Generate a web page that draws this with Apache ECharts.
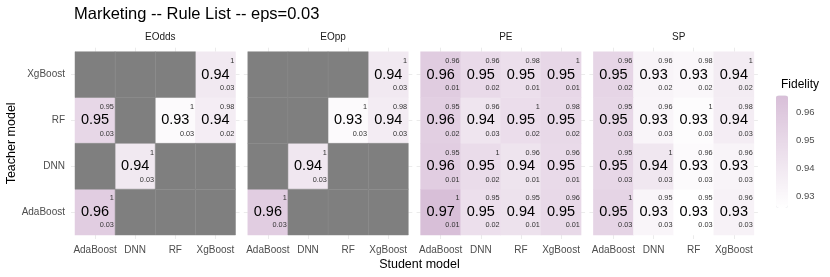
<!DOCTYPE html>
<html>
<head>
<meta charset="utf-8">
<script src="https://cdn.jsdelivr.net/npm/echarts@6/dist/echarts.min.js"></script>
<style>html,body{margin:0;padding:0;background:#fff}#c{width:830px;height:277px}</style>
</head>
<body>
<div id="c"></div>
<script>
// ---------------- data ----------------
const students = ['AdaBoost', 'DNN', 'RF', 'XgBoost'];
const teachers = ['AdaBoost', 'DNN', 'RF', 'XgBoost']; // bottom to top
const facets = ['EOdds', 'EOpp', 'PE', 'SP'];
const legendTicks = [0.93, 0.94, 0.95, 0.96];

// rows = teacher (AdaBoost, DNN, RF, XgBoost), cols = student
const fidelityEOdds = [
  [0.957, null, null, null],
  [null, 0.940, null, null],
  [0.951, null, 0.929, 0.937],
  [null, null, null, 0.940]
];
const topEOdds = [
  [1, null, null, null],
  [null, 1, null, null],
  [0.95, null, 1, 0.98],
  [null, null, null, 1]
];
const bottomEOdds = [
  [0.03, null, null, null],
  [null, 0.03, null, null],
  [0.03, null, 0.03, 0.02],
  [null, null, null, 0.03]
];

const fidelityEOpp = [
  [0.957, null, null, null],
  [null, 0.941, null, null],
  [null, null, 0.929, 0.938],
  [null, null, null, 0.940]
];
const topEOpp = [
  [1, null, null, null],
  [null, 1, null, null],
  [null, null, 1, 0.98],
  [null, null, null, 1]
];
const bottomEOpp = [
  [0.03, null, null, null],
  [null, 0.03, null, null],
  [null, null, 0.03, 0.03],
  [null, null, null, 0.03]
];

const fidelityPE = [
  [0.966, 0.946, 0.944, 0.950],
  [0.957, 0.948, 0.943, 0.949],
  [0.956, 0.942, 0.947, 0.950],
  [0.958, 0.949, 0.946, 0.951]
];
const topPE = [
  [1, 0.95, 0.95, 0.96],
  [0.95, 1, 0.96, 0.96],
  [0.95, 0.96, 1, 0.98],
  [0.96, 0.96, 0.98, 1]
];
const bottomPE = [
  [0.01, 0.02, 0.01, 0.01],
  [0.01, 0.02, 0.01, 0.01],
  [0.02, 0.03, 0.02, 0.02],
  [0.01, 0.02, 0.01, 0.01]
];

const fidelitySP = [
  [0.953, 0.932, 0.926, 0.934],
  [0.951, 0.941, 0.929, 0.933],
  [0.951, 0.932, 0.928, 0.937],
  [0.952, 0.933, 0.931, 0.938]
];
const topSP = [
  [1, 0.95, 0.95, 0.96],
  [0.95, 1, 0.96, 0.96],
  [0.95, 0.96, 1, 0.98],
  [0.96, 0.96, 0.98, 1]
];
const bottomSP = [
  [0.03, 0.03, 0.03, 0.03],
  [0.03, 0.03, 0.03, 0.03],
  [0.03, 0.03, 0.03, 0.03],
  [0.02, 0.02, 0.02, 0.02]
];

const facetData = [
  { fid: fidelityEOdds, top: topEOdds, bot: bottomEOdds },
  { fid: fidelityEOpp, top: topEOpp, bot: bottomEOpp },
  { fid: fidelityPE, top: topPE, bot: bottomPE },
  { fid: fidelitySP, top: topSP, bot: bottomSP }
];

// ---------------- layout / style ----------------
const FONT = 'Liberation Sans, Arial, Helvetica, sans-serif';
const GRID_LEFT0 = 75, GRID_STEP = 172.8, GRID_W = 160.5, GRID_TOP = 51.7, GRID_H = 183.3;
const GRID_COLOR = '#ebebeb';

let allVals = [];
facetData.forEach(f => f.fid.forEach(r => r.forEach(v => { if (v != null) allVals.push(v); })));
const vMin = Math.min(...allVals), vMax = Math.max(...allVals);

const grids = [], xAxes = [], yAxes = [], series = [], titles = [];
const heatIdx = [];

titles.push({
  text: 'Marketing -- Rule List -- eps=0.03',
  left: 69, top: 1,
  textStyle: { fontFamily: FONT, fontSize: 16.5, fontWeight: 'normal', color: '#000' }
});

facets.forEach((name, i) => {
  const left = GRID_LEFT0 + i * GRID_STEP;
  grids.push({ left: left, top: GRID_TOP, width: GRID_W, height: GRID_H, containLabel: false });
  // strip label
  titles.push({
    text: name, left: left + GRID_W / 2, top: 27, textAlign: 'center',
    textStyle: { fontFamily: FONT, fontSize: 10, fontWeight: 'normal', color: '#1a1a1a' }
  });
  const xb = xAxes.length;
  xAxes.push({
    type: 'category', data: students, gridIndex: i, position: 'bottom',
    axisLine: { show: false },
    axisTick: { show: true, alignWithLabel: true, interval: 0, length: 4, lineStyle: { color: GRID_COLOR, width: 1 } },
    axisLabel: { fontFamily: FONT, fontSize: 10, color: '#4d4d4d', margin: 10, interval: 0 },
    splitLine: { show: false }
  });
  xAxes.push({
    type: 'category', data: students, gridIndex: i, position: 'top',
    axisLine: { show: false },
    axisTick: { show: true, alignWithLabel: true, interval: 0, length: 4, lineStyle: { color: GRID_COLOR, width: 1 } },
    axisLabel: { show: false }, splitLine: { show: false }
  });
  const yb = yAxes.length;
  yAxes.push({
    type: 'category', data: teachers, gridIndex: i, position: 'left',
    axisLine: { show: false },
    axisTick: { show: true, alignWithLabel: true, interval: 0, length: 4, lineStyle: { color: GRID_COLOR, width: 1 } },
    axisLabel: { show: i === 0, fontFamily: FONT, fontSize: 10, color: '#4d4d4d', margin: 10, interval: 0 },
    splitLine: { show: false },
    name: i === 0 ? 'Teacher model' : '',
    nameLocation: 'middle', nameGap: 55, nameRotate: 90,
    nameTextStyle: { fontFamily: FONT, fontSize: 12.5, color: '#000' }
  });
  yAxes.push({
    type: 'category', data: teachers, gridIndex: i, position: 'right',
    axisLine: { show: false },
    axisTick: { show: true, alignWithLabel: true, interval: 0, length: 4, lineStyle: { color: GRID_COLOR, width: 1 } },
    axisLabel: { show: false }, splitLine: { show: false }
  });

  const f = facetData[i];
  const heat = [], na = [], labels = [];
  for (let t = 0; t < teachers.length; t++) {
    for (let s = 0; s < students.length; s++) {
      const v = f.fid[t][s];
      if (v == null) na.push([s, t]);
      else {
        heat.push([s, t, v]);
        labels.push([s, t, v, f.top[t][s], f.bot[t][s]]);
      }
    }
  }
  heatIdx.push(series.length);
  series.push({
    type: 'heatmap', xAxisIndex: xb, yAxisIndex: yb, data: heat,
    itemStyle: { borderWidth: 0 },
    emphasis: { disabled: true }, silent: true
  });
  series.push({
    type: 'custom', xAxisIndex: xb, yAxisIndex: yb, data: na, silent: true,
    encode: { x: 0, y: 1 },
    renderItem: function (params, api) {
      const c = api.coord([api.value(0), api.value(1)]);
      const sz = api.size([1, 1]);
      return {
        type: 'rect',
        shape: { x: c[0] - sz[0] / 2, y: c[1] - sz[1] / 2, width: sz[0], height: sz[1] },
        style: { fill: '#7f7f7f', stroke: '#868686', lineWidth: 0.5 }
      };
    }
  });
  series.push({
    type: 'custom', xAxisIndex: xb, yAxisIndex: yb, data: labels, silent: true,
    dimensions: ['s', 't', 'fid', 'top', 'bot'],
    encode: { x: 0, y: 1 }, z: 5,
    renderItem: function (params, api) {
      const c = api.coord([api.value(0), api.value(1)]);
      const sz = api.size([1, 1]);
      const fid = api.value(2), tp = api.value(3), bt = api.value(4);
      return {
        type: 'group',
        children: [
          { type: 'text', x: c[0], y: c[1],
            style: { text: fid.toFixed(2), fontFamily: FONT, fontSize: 14.5, fill: '#000', align: 'center', verticalAlign: 'middle' } },
          { type: 'text', x: c[0] + 0.47 * sz[0], y: c[1] - 0.3 * sz[1],
            style: { text: String(tp), fontFamily: FONT, fontSize: 7.3, fill: '#333', align: 'right', verticalAlign: 'middle' } },
          { type: 'text', x: c[0] + 0.47 * sz[0], y: c[1] + 0.29 * sz[1],
            style: { text: String(bt), fontFamily: FONT, fontSize: 7.3, fill: '#333', align: 'right', verticalAlign: 'middle' } }
        ]
      };
    }
  });
});

// axis title
titles.push({
  text: 'Student model', left: GRID_LEFT0 + (3 * GRID_STEP + GRID_W) / 2, top: 253, textAlign: 'center',
  textStyle: { fontFamily: FONT, fontSize: 12.5, fontWeight: 'normal', color: '#000' }
});
// legend title
titles.push({
  text: 'Fidelity', left: 776, top: 74,
  textStyle: { fontFamily: FONT, fontSize: 12, fontWeight: 'normal', color: '#000' }
});

// legend label axis
const LEG_LEFT = 776, LEG_TOP = 95.5, LEG_W = 12, LEG_H = 112.5;
grids.push({ left: LEG_LEFT, top: LEG_TOP, width: LEG_W, height: LEG_H });
const lgIdx = grids.length - 1;
xAxes.push({ type: 'value', gridIndex: lgIdx, show: false });
yAxes.push({
  type: 'value', gridIndex: lgIdx, position: 'right', min: vMin, max: vMax,
  axisLine: { show: false }, splitLine: { show: false },
  axisTick: { show: true, inside: true, length: 2.4, lineStyle: { color: '#fff', width: 1 }, customValues: legendTicks },
  axisLabel: { fontFamily: FONT, fontSize: 9.5, color: '#4d4d4d', margin: 8, customValues: legendTicks,
    formatter: v => v.toFixed(2) }
});

const option = {
  animation: false,
  backgroundColor: '#fff',
  title: titles,
  grid: grids,
  xAxis: xAxes,
  yAxis: yAxes,
  visualMap: {
    type: 'continuous', min: vMin, max: vMax, seriesIndex: heatIdx, dimension: 2,
    inRange: { color: ['#ffffff', '#d8bfd8'] },
    calculable: false, show: true, orient: 'vertical',
    left: LEG_LEFT, top: LEG_TOP, itemWidth: LEG_W, itemHeight: LEG_H,
    padding: 0, text: null, showLabel: false
  },
  series: series
};

const chart = echarts.init(document.getElementById('c'), null, { renderer: 'canvas' });
chart.setOption(option);
</script>
</body>
</html>
